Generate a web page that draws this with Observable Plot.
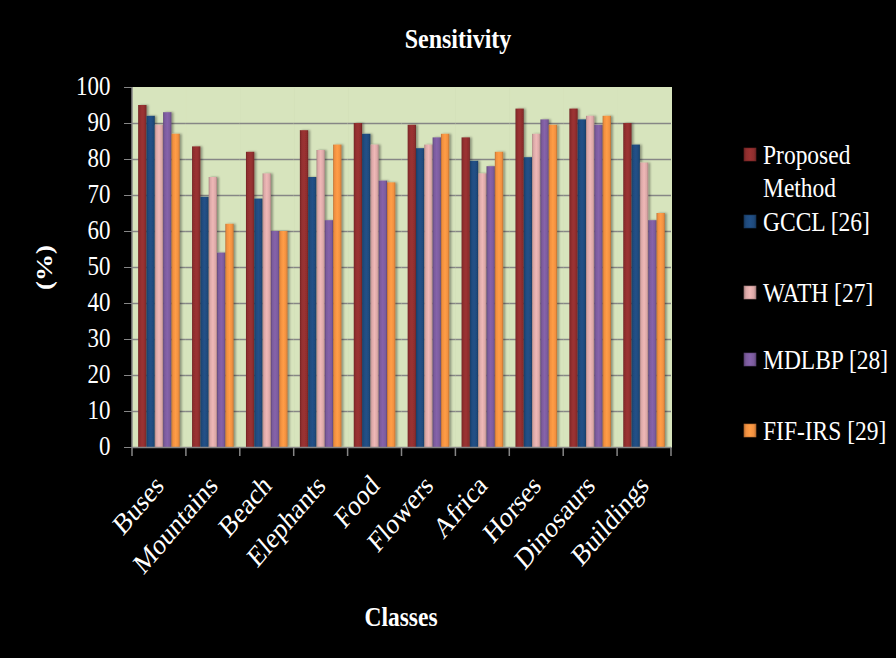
<!DOCTYPE html>
<html>
<head>
<meta charset="utf-8">
<script src="https://cdn.jsdelivr.net/npm/d3@7"></script>
<script src="https://cdn.jsdelivr.net/npm/@observablehq/plot@0.6"></script>
<style>
  html, body { margin: 0; padding: 0; background: #000; }
  #chart { position: relative; width: 896px; height: 658px; background: #000; overflow: hidden; }
  #chart svg { display: block; font-family: "Liberation Serif", "Times New Roman", serif; }
  g[aria-label="bar"] { filter: url(#barShadow); }
  g[aria-label="y-axis label"] text { font-weight: bold; }
</style>
</head>
<body>
<svg width="0" height="0" style="position:absolute">
  <defs id="paint"></defs>
</svg>
<div id="chart"></div>
<script>
// Sensitivity (%) per image class for each retrieval method
const classes = ["Buses", "Mountains", "Beach", "Elephants", "Food", "Flowers", "Africa", "Horses", "Dinosaurs", "Buildings"];
const series = ["Proposed Method", "GCCL [26]", "WATH [27]", "MDLBP [28]", "FIF-IRS [29]"];
const proposed = [95, 83.5, 82, 88, 90, 89.5, 86, 94, 94, 90];
const gccl     = [92, 69.5, 69, 75, 87, 83, 79.5, 80.5, 91, 84];
const wath     = [89.5, 75, 76, 82.5, 84, 84, 76, 87, 92, 79];
const mdlbp    = [93, 54, 60, 63, 74, 86, 78, 91, 89.5, 63];
const fifIrs   = [87, 62, 60, 84, 73.5, 87, 82, 89.5, 92, 65];
const yTicks   = [0, 10, 20, 30, 40, 50, 60, 70, 80, 90, 100];
const seriesColors = ["#8f2e2e", "#1f4a7c", "#dba8a7", "#7b5b9c", "#f19040"];

const values = [proposed, gccl, wath, mdlbp, fifIrs];
const rows = classes.flatMap((cls, i) => series.map((s, j) => ({cls, series: s, value: values[j][i]})));

// Bevelled look for the bars: darker edges, lighter centre
const defs = d3.select("#paint");
seriesColors.forEach((c, i) => {
  const base = d3.color(c);
  const g = defs.append("linearGradient").attr("id", `grad${i}`).attr("x1", 0).attr("x2", 1).attr("y1", 0).attr("y2", 0);
  [[0, base.darker(0.7)], [0.18, base], [0.5, base.brighter(0.25)], [0.82, base], [1, base.darker(0.7)]]
    .forEach(([o, col]) => g.append("stop").attr("offset", o).attr("stop-color", col.formatHex()));
});
const f = defs.append("filter").attr("id", "barShadow").attr("x", "-20%").attr("y", "-5%").attr("width", "160%").attr("height", "110%");
f.append("feDropShadow").attr("dx", 2).attr("dy", 0).attr("stdDeviation", 1).attr("flood-color", "#000").attr("flood-opacity", 0.35);

const bg = "#d7e4bd";
const axisGray = "#868686";

const chart = Plot.plot({
  width: 896,
  height: 658,
  marginTop: 87,
  marginBottom: 211,
  marginLeft: 132,
  marginRight: 225,
  style: {background: "#000", color: "#fff", fontFamily: "Liberation Serif, Times New Roman, serif", fontSize: "23px"},
  fx: {domain: classes, padding: 0, round: false, label: null},
  x: {domain: series, paddingInner: 0, paddingOuter: 0.74, round: false, axis: null},
  y: {domain: [0, 100]},
  color: {domain: series, range: series.map((s, i) => `url(#grad${i})`)},
  marks: [
    Plot.frame({fill: bg, stroke: bg, strokeWidth: 1}),
    Plot.gridY(yTicks.slice(1, -1), {stroke: axisGray, strokeOpacity: 1, strokeWidth: 1.5}),
    Plot.barY(rows, {fx: "cls", x: "series", y: "value", fill: "series"}),
    Plot.ruleY([0], {stroke: axisGray, strokeWidth: 1.5}),
    Plot.axisY(yTicks, {
      tickSize: 8, tickPadding: 14, stroke: axisGray, fontSize: 23,
      label: "(%)", labelAnchor: "center", labelOffset: 97, labelArrow: "none"
    }),
    Plot.axisFx({anchor: "bottom", tickRotate: -45, tickSize: 0, tickPadding: 34, fontSize: 25, label: null})
  ]
});

document.getElementById("chart").appendChild(chart);

// Stretch text vertically about its anchor point (tall serif lettering)
const K = 1.17;
const svgns = "http://www.w3.org/2000/svg";
function stretch(node, k) {
  const x = node.x.baseVal.length ? node.x.baseVal[0].value : 0;
  const y = node.y.baseVal.length ? node.y.baseVal[0].value : 0;
  const t = node.transform.baseVal.consolidate();
  let px = x, py = y;
  if (t) { const m = t.matrix; px = m.a * x + m.c * y + m.e; py = m.b * x + m.d * y + m.f; }
  const g = document.createElementNS(svgns, "g");
  node.parentNode.insertBefore(g, node);
  g.appendChild(node);
  g.setAttribute("transform", `translate(${px},${py}) scale(1,${k}) translate(${-px},${-py})`);
}
chart.querySelectorAll("text").forEach((n) => stretch(n, K));

// Category boundary ticks and the left axis line, from the plot's own scales
const fx = chart.scale("fx");
const y = chart.scale("y");
const svg = d3.select(chart);
const y0 = y.apply(0), yTop = y.apply(100);
const bounds = classes.map((c) => fx.apply(c)).concat([fx.apply(classes[classes.length - 1]) + fx.bandwidth]);
const ax = svg.append("g").attr("stroke", axisGray).attr("stroke-width", 1.5);
ax.selectAll("line.b").data(bounds).join("line")
  .attr("x1", (d) => d).attr("x2", (d) => d).attr("y1", y0).attr("y2", y0 + 9);
ax.append("line").attr("x1", bounds[0]).attr("x2", bounds[0]).attr("y1", yTop).attr("y2", y0);

// Title, x-axis title and legend
function label(parent, text, x, yb, opts = {}) {
  const g = parent.append("g").attr("transform", `translate(${x},${yb}) scale(1,${opts.k || K})`);
  g.append("text").attr("fill", "#fff").attr("font-size", opts.size || 23)
    .attr("font-weight", opts.bold ? "bold" : null)
    .attr("text-anchor", opts.anchor || "start").text(text);
  return g;
}
label(svg, "Sensitivity", 458, 48, {bold: true, size: 24, anchor: "middle", k: 1.15});
label(svg, "Classes", 401, 626, {bold: true, size: 23.5, anchor: "middle", k: 1.15});

const legend = svg.append("g");
const legendBaselines = [[164, 197], [231], [302], [369], [440]];
const legendLines = [["Proposed", "Method"], ["GCCL [26]"], ["WATH [27]"], ["MDLBP [28]"], ["FIF-IRS [29]"]];
series.forEach((s, i) => {
  const b = legendBaselines[i];
  legend.append("rect").attr("x", 744).attr("y", b[0] - 16).attr("width", 12).attr("height", 13)
    .attr("fill", `url(#grad${i})`).attr("stroke", d3.color(seriesColors[i]).darker(0.8).formatHex()).attr("stroke-width", 0.6);
  legendLines[i].forEach((line, j) => label(legend, line, 763, b[j], {size: 23.5}));
});
</script>
</body>
</html>
